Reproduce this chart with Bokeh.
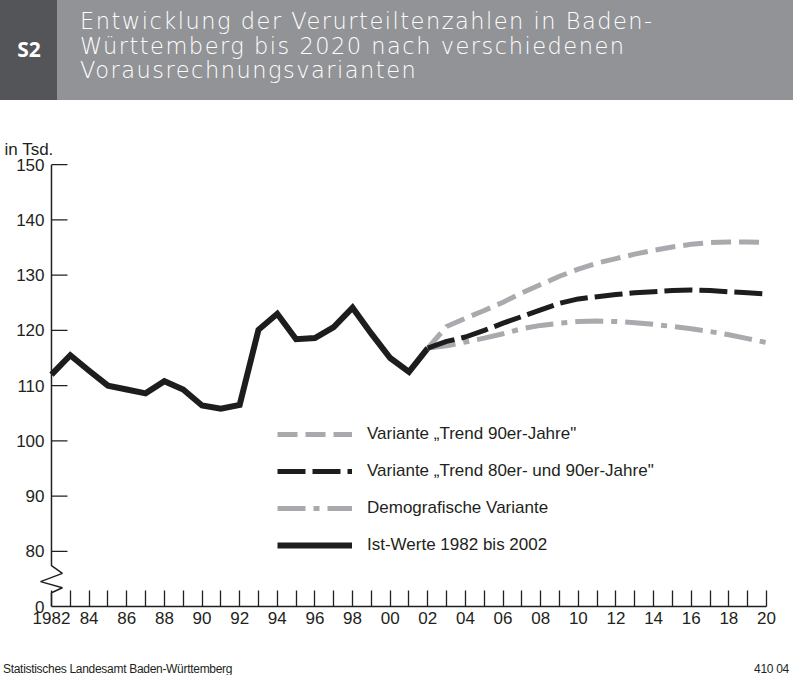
from bokeh.plotting import figure
from bokeh.models import FixedTicker, Legend, LegendItem, Div, Range1d, Title
from bokeh.layouts import column
from bokeh.embed import file_html
from bokeh.resources import INLINE

# ---------------- data ----------------
years_ist = list(range(1982, 2003))
ist_werte = [112.0, 115.5, 112.7, 110.0, 109.3, 108.6, 110.8, 109.3, 106.4, 105.8,
             106.5, 120.1, 123.0, 118.4, 118.6, 120.6, 124.1, 119.4, 115.0, 112.5, 116.8]

years_proj = list(range(2002, 2021))
trend_90 = [116.8, 120.7, 122.2, 123.6, 125.1, 126.8, 128.3, 129.8, 131.1, 132.2,
            133.0, 133.8, 134.5, 135.1, 135.6, 135.9, 136.0, 136.0, 135.9]
trend_80_90 = [116.8, 118.0, 118.8, 120.0, 121.3, 122.5, 123.7, 124.9, 125.7, 126.1,
               126.5, 126.8, 127.0, 127.2, 127.3, 127.2, 127.0, 126.8, 126.6]
demografisch = [116.8, 117.2, 117.9, 118.6, 119.4, 120.3, 120.9, 121.3, 121.6, 121.7,
                121.6, 121.4, 121.1, 120.7, 120.3, 119.8, 119.2, 118.5, 117.8]

x_ticks = list(range(1982, 2021))
x_tick_labels = ["1982" if y == 1982 else (f"{y % 100:02d}" if y % 2 == 0 else "") for y in x_ticks]
y_ticks = [70, 80, 90, 100, 110, 120, 130, 140, 150]   # 70 = position of the broken "0"
y_tick_labels = ["0", "80", "90", "100", "110", "120", "130", "140", "150"]

legend_labels = ['Variante \u201eTrend 90er-Jahre"',
                 'Variante \u201eTrend 80er- und 90er-Jahre"',
                 'Demografische Variante',
                 'Ist-Werte 1982 bis 2002']

title_lines = ["Entwicklung der Verurteiltenzahlen in Baden-",
               "Württemberg bis 2020 nach verschiedenen",
               "Vorausrechnungsvarianten"]

# ---------------- styles ----------------
BLACK = "#1e1c1d"
GRAY = "#a9aaad"
AXIS = "#231f20"
FONT = "Liberation Sans"
W = 793

X0, X1 = 1982, 2020
Y0, Y1 = 70, 150
X_PAD = 0.69      # room left of the y axis for the zigzag break (years)
Y_PAD = 0.4       # room above the top tick
TICK_LEN = 0.85   # y tick length in years (~16 px)

line_divs = "".join(
    f'<div style="position:absolute;left:80px;top:{9 + i * 24.5}px;height:24px;line-height:24px;'
    f'color:#ffffff;font-family:\'DejaVu Sans\';font-weight:300;font-size:22.5px;'
    f'letter-spacing:1.5px;white-space:nowrap;">{t}</div>'
    for i, t in enumerate(title_lines))
header_html = f"""
<div style="position:relative;width:{W}px;height:100px;background:#929396;overflow:hidden;">
  <div style="position:absolute;left:0;top:0;width:57px;height:100px;background:#545558;"></div>
  <div style="position:absolute;left:11px;top:37px;width:36px;text-align:center;color:#ffffff;
              font-family:'Open Sans';font-weight:700;font-size:21px;line-height:24px;">S2</div>
  {line_divs}
</div>
"""
header = Div(text=header_html, width=W, height=100, margin=0)

p = figure(width=W, height=555, output_backend="svg", toolbar_location=None,
           x_range=Range1d(X0 - X_PAD, X1), y_range=Range1d(Y0, Y1 + Y_PAD),
           min_border_left=38, min_border_right=27, min_border_top=62, min_border_bottom=49)
p.outline_line_color = None
p.xgrid.grid_line_color = None
p.ygrid.grid_line_color = None
p.background_fill_color = "white"

# x axis (limited to 1982-2020)
p.xaxis.bounds = (X0, X1)
p.xaxis.ticker = FixedTicker(ticks=x_ticks)
p.xaxis.major_label_overrides = {t: l for t, l in zip(x_ticks, x_tick_labels)}
p.xaxis.major_tick_in = 16
p.xaxis.major_tick_out = 0
p.xaxis.minor_tick_line_color = None
p.xaxis.axis_line_color = AXIS
p.xaxis.axis_line_width = 1.5
p.xaxis.major_tick_line_color = AXIS
p.xaxis.major_tick_line_width = 1.3
p.xaxis.major_label_text_font = FONT
p.xaxis.major_label_text_font_size = "17px"
p.xaxis.major_label_text_color = AXIS
p.xaxis.major_label_standoff = 5

# y axis: labels from the axis; line (with zigzag break) and ticks drawn at x = 1982
p.yaxis.ticker = FixedTicker(ticks=y_ticks)
p.yaxis.major_label_overrides = {t: l for t, l in zip(y_ticks, y_tick_labels)}
p.yaxis.major_tick_in = 0
p.yaxis.major_tick_out = 0
p.yaxis.major_tick_line_color = None
p.yaxis.minor_tick_line_color = None
p.yaxis.axis_line_color = None
p.yaxis.major_label_text_font = FONT
p.yaxis.major_label_text_font_size = "17px"
p.yaxis.major_label_text_color = AXIS
p.yaxis.major_label_standoff = -6

zx = 0.58
p.line([X0, X0, X0 + zx, X0 - zx, X0 + zx, X0, X0],
       [Y1, 77.4, 76.0, 74.5, 73.4, 72.5, Y0], line_color=AXIS, line_width=1.5)
tick_vals = [t for t in y_ticks if t > Y0]
p.segment(x0=[X0] * len(tick_vals), y0=tick_vals, x1=[X0 + TICK_LEN] * len(tick_vals),
          y1=tick_vals, line_color=AXIS, line_width=1.3)

# data lines
r_ist = p.line(years_ist, ist_werte, line_color=BLACK, line_width=6, line_join="miter")
r_demo = p.line(years_proj, demografisch, line_color=GRAY, line_width=5,
                line_dash="28 8 6 8")
r_t90 = p.line(years_proj, trend_90, line_color=GRAY, line_width=5, line_dash="20 8")
r_t8090 = p.line(years_proj, trend_80_90, line_color=BLACK, line_width=5, line_dash="28 7")

legend = Legend(items=[LegendItem(label=legend_labels[0], renderers=[r_t90]),
                       LegendItem(label=legend_labels[1], renderers=[r_t8090]),
                       LegendItem(label=legend_labels[2], renderers=[r_demo]),
                       LegendItem(label=legend_labels[3], renderers=[r_ist])],
                location=(239, 51), orientation="vertical",
                glyph_width=75, glyph_height=20, label_height=20, spacing=17,
                label_standoff=15, padding=0, margin=0,
                border_line_color=None, background_fill_alpha=0,
                label_text_font=FONT, label_text_font_size="17px", label_text_color=AXIS)
p.add_layout(legend)

p.add_layout(Title(text="in Tsd.", align="left", offset=-34, standoff=7,
                   text_font=FONT, text_font_size="17px", text_font_style="normal",
                   text_color=AXIS), "above")

footer_html = f"""
<div style="position:relative;width:{W}px;height:20px;font-family:'Liberation Sans';
            font-size:12px;color:#231f20;">
  <span style="position:absolute;left:3px;top:6px;letter-spacing:-0.3px;">Statistisches Landesamt Baden-Württemberg</span>
  <span style="position:absolute;right:4px;top:6px;letter-spacing:-0.3px;">410 04</span>
</div>
"""
footer = Div(text=footer_html, width=W, height=20, margin=0)

layout = column(header, p, footer, spacing=0)
html = file_html(layout, INLINE, title="S2 Verurteiltenzahlen")
html = html.replace("<head>", "<head><style>html,body{margin:0;padding:0;overflow:hidden;}</style>", 1)
open("out.html", "w").write(html)
